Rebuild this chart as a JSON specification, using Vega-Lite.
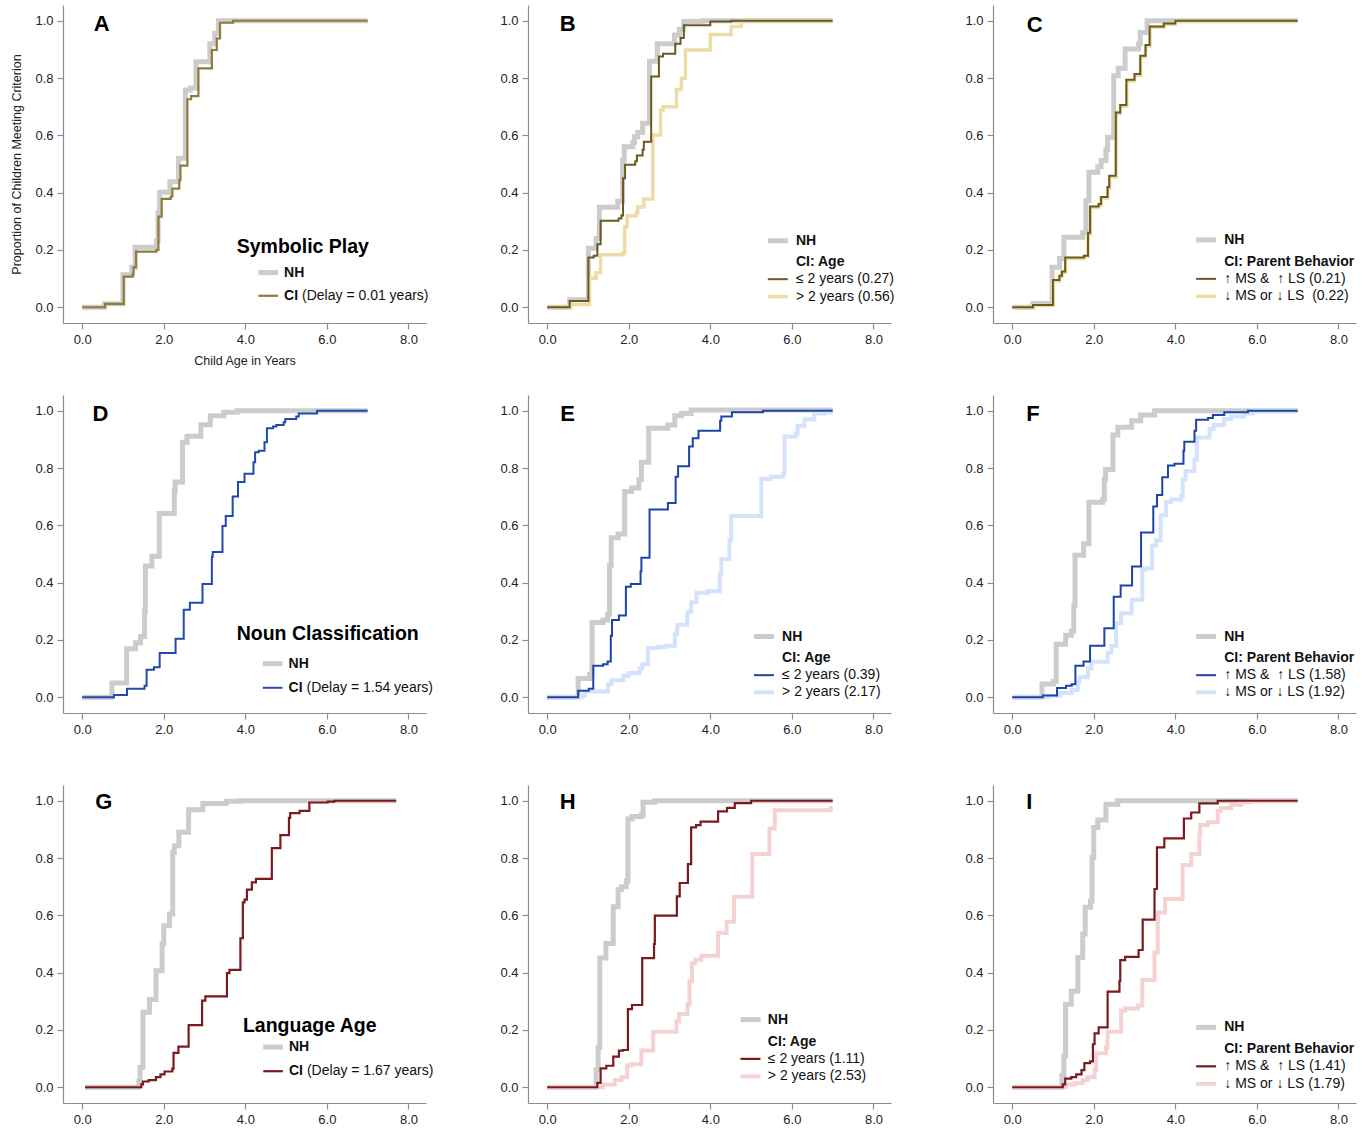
{
"$schema": "https://vega.github.io/schema/vega-lite/v6.json",
"background": "white",
"padding": {"left": 10, "top": 5, "right": 5, "bottom": 5},
"config": {
  "font": "Liberation Sans",
  "view": {"stroke": null},
  "axis": {"grid": false, "domainColor": "#8c8c8c", "tickColor": "#8c8c8c", "domainWidth": 1.2, "tickWidth": 1.2, "tickSize": 6, "labelPadding": 4, "labelFontSize": 13, "labelColor": "#222222", "labelFlush": false, "titleFontSize": 12.5, "titleFontWeight": "normal", "titleColor": "#222222"},
  "text": {"color": "#111111"}
},
"datasets": {
  "aN": [{"x":0,"y":0},{"x":0.55,"y":0.012},{"x":1.0,"y":0.113},{"x":1.22,"y":0.14},{"x":1.3,"y":0.209},{"x":1.82,"y":0.23},{"x":1.86,"y":0.33},{"x":1.9,"y":0.401},{"x":2.15,"y":0.438},{"x":2.36,"y":0.52},{"x":2.53,"y":0.758},{"x":2.65,"y":0.765},{"x":2.79,"y":0.857},{"x":3.13,"y":0.92},{"x":3.25,"y":0.956},{"x":3.34,"y":1.0},{"x":7.0,"y":1.0}],
  "aC": [{"x":0,"y":0},{"x":0.56,"y":0.012},{"x":1.02,"y":0.107},{"x":1.24,"y":0.115},{"x":1.26,"y":0.14},{"x":1.32,"y":0.194},{"x":1.82,"y":0.2},{"x":1.87,"y":0.316},{"x":1.95,"y":0.378},{"x":2.17,"y":0.386},{"x":2.21,"y":0.414},{"x":2.38,"y":0.444},{"x":2.41,"y":0.494},{"x":2.58,"y":0.726},{"x":2.67,"y":0.737},{"x":2.85,"y":0.834},{"x":3.18,"y":0.898},{"x":3.3,"y":0.938},{"x":3.38,"y":0.993},{"x":3.7,"y":1.0},{"x":7.0,"y":1.0}],
  "bN": [{"x":0,"y":0},{"x":0.55,"y":0.026},{"x":1.01,"y":0.206},{"x":1.2,"y":0.24},{"x":1.28,"y":0.349},{"x":1.73,"y":0.37},{"x":1.85,"y":0.514},{"x":1.89,"y":0.56},{"x":2.1,"y":0.575},{"x":2.14,"y":0.595},{"x":2.22,"y":0.61},{"x":2.34,"y":0.642},{"x":2.51,"y":0.859},{"x":2.7,"y":0.92},{"x":3.12,"y":0.95},{"x":3.24,"y":0.97},{"x":3.35,"y":0.997},{"x":3.8,"y":1.0},{"x":7.0,"y":1.0}],
  "bL": [{"x":0,"y":0},{"x":0.55,"y":0.022},{"x":1.01,"y":0.174},{"x":1.14,"y":0.18},{"x":1.23,"y":0.22},{"x":1.31,"y":0.302},{"x":1.75,"y":0.31},{"x":1.82,"y":0.32},{"x":1.86,"y":0.45},{"x":1.91,"y":0.497},{"x":2.16,"y":0.51},{"x":2.2,"y":0.53},{"x":2.34,"y":0.55},{"x":2.37,"y":0.578},{"x":2.55,"y":0.805},{"x":2.74,"y":0.875},{"x":2.84,"y":0.885},{"x":3.14,"y":0.92},{"x":3.27,"y":0.94},{"x":3.35,"y":0.984},{"x":4.0,"y":0.997},{"x":4.51,"y":1.0},{"x":7.0,"y":1.0}],
  "bH": [{"x":0,"y":0},{"x":0.55,"y":0.01},{"x":1.04,"y":0.101},{"x":1.2,"y":0.12},{"x":1.31,"y":0.183},{"x":1.86,"y":0.19},{"x":1.9,"y":0.281},{"x":1.96,"y":0.319},{"x":2.18,"y":0.33},{"x":2.22,"y":0.35},{"x":2.37,"y":0.378},{"x":2.59,"y":0.601},{"x":2.78,"y":0.688},{"x":2.84,"y":0.7},{"x":3.17,"y":0.76},{"x":3.29,"y":0.799},{"x":3.39,"y":0.898},{"x":4.0,"y":0.952},{"x":4.51,"y":0.98},{"x":4.76,"y":1.0},{"x":7.0,"y":1.0}],
  "cN": [{"x":0,"y":0},{"x":0.51,"y":0.013},{"x":0.98,"y":0.14},{"x":1.16,"y":0.17},{"x":1.27,"y":0.244},{"x":1.73,"y":0.26},{"x":1.81,"y":0.372},{"x":1.88,"y":0.471},{"x":2.1,"y":0.49},{"x":2.18,"y":0.512},{"x":2.3,"y":0.55},{"x":2.34,"y":0.593},{"x":2.49,"y":0.808},{"x":2.6,"y":0.834},{"x":2.77,"y":0.901},{"x":3.1,"y":0.92},{"x":3.14,"y":0.959},{"x":3.31,"y":1.0},{"x":7.0,"y":1.0}],
  "cL": [{"x":0,"y":0},{"x":0.51,"y":0.008},{"x":1.0,"y":0.095},{"x":1.16,"y":0.11},{"x":1.22,"y":0.125},{"x":1.3,"y":0.174},{"x":1.76,"y":0.18},{"x":1.86,"y":0.26},{"x":1.91,"y":0.352},{"x":2.12,"y":0.36},{"x":2.18,"y":0.385},{"x":2.34,"y":0.42},{"x":2.38,"y":0.459},{"x":2.54,"y":0.68},{"x":2.65,"y":0.706},{"x":2.8,"y":0.794},{"x":3.0,"y":0.814},{"x":3.14,"y":0.878},{"x":3.27,"y":0.915},{"x":3.37,"y":0.98},{"x":3.72,"y":0.99},{"x":4.0,"y":1.0},{"x":7.0,"y":1.0}],
  "cH": [{"x":0,"y":0},{"x":0.51,"y":0.006},{"x":1.0,"y":0.092},{"x":1.16,"y":0.107},{"x":1.22,"y":0.122},{"x":1.31,"y":0.17},{"x":1.76,"y":0.177},{"x":1.86,"y":0.256},{"x":1.92,"y":0.348},{"x":2.12,"y":0.356},{"x":2.18,"y":0.381},{"x":2.34,"y":0.416},{"x":2.39,"y":0.455},{"x":2.55,"y":0.676},{"x":2.65,"y":0.702},{"x":2.81,"y":0.79},{"x":3.0,"y":0.81},{"x":3.15,"y":0.874},{"x":3.27,"y":0.912},{"x":3.38,"y":0.977},{"x":3.72,"y":0.988},{"x":4.0,"y":0.998},{"x":7.0,"y":0.998}],
  "dN": [{"x":0,"y":0},{"x":0.73,"y":0.05},{"x":1.09,"y":0.169},{"x":1.31,"y":0.19},{"x":1.43,"y":0.212},{"x":1.53,"y":0.3},{"x":1.55,"y":0.458},{"x":1.71,"y":0.492},{"x":1.89,"y":0.641},{"x":2.26,"y":0.72},{"x":2.28,"y":0.751},{"x":2.46,"y":0.89},{"x":2.57,"y":0.911},{"x":2.91,"y":0.951},{"x":3.14,"y":0.983},{"x":3.47,"y":0.995},{"x":3.8,"y":1.0},{"x":7.0,"y":1.0}],
  "dC": [{"x":0,"y":0},{"x":0.78,"y":0.008},{"x":1.1,"y":0.03},{"x":1.53,"y":0.04},{"x":1.58,"y":0.096},{"x":1.76,"y":0.105},{"x":1.9,"y":0.154},{"x":2.29,"y":0.204},{"x":2.49,"y":0.305},{"x":2.64,"y":0.33},{"x":2.95,"y":0.395},{"x":3.18,"y":0.49},{"x":3.2,"y":0.507},{"x":3.44,"y":0.598},{"x":3.52,"y":0.633},{"x":3.69,"y":0.701},{"x":3.82,"y":0.751},{"x":3.98,"y":0.78},{"x":4.2,"y":0.82},{"x":4.24,"y":0.855},{"x":4.33,"y":0.86},{"x":4.47,"y":0.89},{"x":4.53,"y":0.939},{"x":4.68,"y":0.945},{"x":4.76,"y":0.95},{"x":4.94,"y":0.96},{"x":4.98,"y":0.971},{"x":5.25,"y":0.98},{"x":5.31,"y":0.99},{"x":5.76,"y":1.0},{"x":7.0,"y":1.0}],
  "eN": [{"x":0,"y":0},{"x":0.76,"y":0.065},{"x":1.04,"y":0.08},{"x":1.1,"y":0.261},{"x":1.37,"y":0.27},{"x":1.48,"y":0.29},{"x":1.53,"y":0.461},{"x":1.57,"y":0.557},{"x":1.74,"y":0.57},{"x":1.9,"y":0.718},{"x":2.07,"y":0.73},{"x":2.25,"y":0.76},{"x":2.31,"y":0.82},{"x":2.49,"y":0.939},{"x":2.96,"y":0.95},{"x":3.13,"y":0.983},{"x":3.29,"y":0.99},{"x":3.53,"y":1.003},{"x":7.0,"y":1.003}],
  "eL": [{"x":0,"y":0},{"x":0.76,"y":0.023},{"x":1.02,"y":0.03},{"x":1.13,"y":0.11},{"x":1.37,"y":0.115},{"x":1.48,"y":0.125},{"x":1.56,"y":0.215},{"x":1.59,"y":0.27},{"x":1.76,"y":0.285},{"x":1.93,"y":0.386},{"x":2.05,"y":0.395},{"x":2.29,"y":0.44},{"x":2.31,"y":0.487},{"x":2.51,"y":0.655},{"x":2.96,"y":0.678},{"x":3.15,"y":0.77},{"x":3.21,"y":0.806},{"x":3.48,"y":0.875},{"x":3.57,"y":0.904},{"x":3.71,"y":0.93},{"x":4.24,"y":0.965},{"x":4.27,"y":0.98},{"x":4.53,"y":0.995},{"x":5.29,"y":1.0},{"x":7.0,"y":1.0}],
  "eH": [{"x":0,"y":0},{"x":0.84,"y":0.005},{"x":0.92,"y":0.02},{"x":1.49,"y":0.045},{"x":1.57,"y":0.059},{"x":1.87,"y":0.075},{"x":2.0,"y":0.085},{"x":2.27,"y":0.1},{"x":2.33,"y":0.115},{"x":2.47,"y":0.172},{"x":2.72,"y":0.175},{"x":2.92,"y":0.18},{"x":3.13,"y":0.222},{"x":3.19,"y":0.253},{"x":3.43,"y":0.285},{"x":3.45,"y":0.298},{"x":3.53,"y":0.332},{"x":3.66,"y":0.365},{"x":3.94,"y":0.37},{"x":4.23,"y":0.43},{"x":4.27,"y":0.482},{"x":4.47,"y":0.55},{"x":4.51,"y":0.633},{"x":5.25,"y":0.762},{"x":5.49,"y":0.77},{"x":5.78,"y":0.78},{"x":5.82,"y":0.91},{"x":6.09,"y":0.92},{"x":6.14,"y":0.948},{"x":6.31,"y":0.97},{"x":6.55,"y":0.99},{"x":6.8,"y":0.995},{"x":7.0,"y":0.995}],
  "fN": [{"x":0,"y":0},{"x":0.73,"y":0.046},{"x":1.01,"y":0.055},{"x":1.08,"y":0.185},{"x":1.31,"y":0.216},{"x":1.45,"y":0.23},{"x":1.51,"y":0.32},{"x":1.54,"y":0.496},{"x":1.75,"y":0.536},{"x":1.88,"y":0.681},{"x":2.22,"y":0.69},{"x":2.26,"y":0.76},{"x":2.29,"y":0.795},{"x":2.47,"y":0.915},{"x":2.59,"y":0.942},{"x":2.93,"y":0.965},{"x":3.15,"y":0.985},{"x":3.49,"y":1.0},{"x":7.0,"y":1.0}],
  "fL": [{"x":0,"y":0},{"x":0.75,"y":0.006},{"x":1.1,"y":0.032},{"x":1.32,"y":0.04},{"x":1.46,"y":0.045},{"x":1.55,"y":0.11},{"x":1.75,"y":0.125},{"x":1.91,"y":0.18},{"x":2.26,"y":0.241},{"x":2.49,"y":0.351},{"x":2.66,"y":0.39},{"x":2.94,"y":0.456},{"x":3.16,"y":0.575},{"x":3.46,"y":0.666},{"x":3.55,"y":0.706},{"x":3.68,"y":0.768},{"x":3.82,"y":0.809},{"x":3.98,"y":0.815},{"x":4.2,"y":0.86},{"x":4.22,"y":0.892},{"x":4.47,"y":0.93},{"x":4.51,"y":0.969},{"x":4.8,"y":0.975},{"x":4.92,"y":0.985},{"x":5.2,"y":0.995},{"x":5.78,"y":1.0},{"x":7.0,"y":1.0}],
  "fH": [{"x":0,"y":0},{"x":0.87,"y":0.005},{"x":1.18,"y":0.015},{"x":1.45,"y":0.025},{"x":1.61,"y":0.055},{"x":1.65,"y":0.07},{"x":1.86,"y":0.1},{"x":1.94,"y":0.124},{"x":2.34,"y":0.155},{"x":2.43,"y":0.18},{"x":2.55,"y":0.258},{"x":2.67,"y":0.293},{"x":2.93,"y":0.34},{"x":3.19,"y":0.444},{"x":3.25,"y":0.45},{"x":3.43,"y":0.53},{"x":3.53,"y":0.548},{"x":3.64,"y":0.635},{"x":3.77,"y":0.681},{"x":3.9,"y":0.69},{"x":4.14,"y":0.7},{"x":4.18,"y":0.76},{"x":4.25,"y":0.79},{"x":4.47,"y":0.83},{"x":4.53,"y":0.907},{"x":4.84,"y":0.936},{"x":4.94,"y":0.95},{"x":5.2,"y":0.971},{"x":5.37,"y":0.98},{"x":5.69,"y":0.99},{"x":5.9,"y":1.0},{"x":7.0,"y":1.0}],
  "gN": [{"x":0.07,"y":0},{"x":1.39,"y":0.02},{"x":1.42,"y":0.07},{"x":1.49,"y":0.262},{"x":1.65,"y":0.306},{"x":1.81,"y":0.407},{"x":1.96,"y":0.5},{"x":2.0,"y":0.564},{"x":2.14,"y":0.605},{"x":2.22,"y":0.82},{"x":2.26,"y":0.843},{"x":2.37,"y":0.89},{"x":2.61,"y":0.969},{"x":2.96,"y":0.99},{"x":3.53,"y":0.998},{"x":3.86,"y":1.0},{"x":7.7,"y":1.0}],
  "gC": [{"x":0.07,"y":0},{"x":1.45,"y":0.01},{"x":1.49,"y":0.02},{"x":1.63,"y":0.025},{"x":1.81,"y":0.035},{"x":1.92,"y":0.045},{"x":2.02,"y":0.055},{"x":2.21,"y":0.065},{"x":2.24,"y":0.12},{"x":2.36,"y":0.142},{"x":2.61,"y":0.217},{"x":2.94,"y":0.302},{"x":3.02,"y":0.317},{"x":3.55,"y":0.398},{"x":3.61,"y":0.41},{"x":3.88,"y":0.52},{"x":3.94,"y":0.645},{"x":3.98,"y":0.655},{"x":4.04,"y":0.69},{"x":4.16,"y":0.715},{"x":4.26,"y":0.727},{"x":4.65,"y":0.835},{"x":4.86,"y":0.88},{"x":5.07,"y":0.94},{"x":5.1,"y":0.957},{"x":5.33,"y":0.965},{"x":5.57,"y":0.994},{"x":6.02,"y":0.997},{"x":6.18,"y":1.0},{"x":7.7,"y":1.0}],
  "hN": [{"x":0,"y":0},{"x":1.2,"y":0.06},{"x":1.25,"y":0.14},{"x":1.29,"y":0.451},{"x":1.44,"y":0.502},{"x":1.62,"y":0.63},{"x":1.74,"y":0.69},{"x":1.82,"y":0.7},{"x":1.94,"y":0.72},{"x":1.98,"y":0.936},{"x":2.08,"y":0.945},{"x":2.31,"y":0.95},{"x":2.35,"y":0.995},{"x":2.64,"y":1.0},{"x":7.0,"y":1.0}],
  "hL": [{"x":0,"y":0},{"x":1.23,"y":0.015},{"x":1.31,"y":0.066},{"x":1.45,"y":0.075},{"x":1.62,"y":0.107},{"x":1.76,"y":0.128},{"x":1.86,"y":0.13},{"x":1.98,"y":0.273},{"x":2.08,"y":0.287},{"x":2.33,"y":0.451},{"x":2.62,"y":0.5},{"x":2.64,"y":0.599},{"x":3.18,"y":0.666},{"x":3.25,"y":0.713},{"x":3.45,"y":0.779},{"x":3.53,"y":0.907},{"x":3.65,"y":0.915},{"x":3.76,"y":0.927},{"x":4.19,"y":0.963},{"x":4.41,"y":0.975},{"x":4.6,"y":0.992},{"x":5.0,"y":1.0},{"x":7.0,"y":1.0}],
  "hH": [{"x":0,"y":0},{"x":1.37,"y":0.01},{"x":1.66,"y":0.025},{"x":1.82,"y":0.035},{"x":1.96,"y":0.076},{"x":2.06,"y":0.08},{"x":2.31,"y":0.128},{"x":2.6,"y":0.194},{"x":3.17,"y":0.23},{"x":3.23,"y":0.256},{"x":3.44,"y":0.29},{"x":3.49,"y":0.37},{"x":3.55,"y":0.433},{"x":3.63,"y":0.445},{"x":3.78,"y":0.459},{"x":4.19,"y":0.538},{"x":4.4,"y":0.578},{"x":4.58,"y":0.665},{"x":5.03,"y":0.814},{"x":5.45,"y":0.903},{"x":5.58,"y":0.967},{"x":6.95,"y":0.975},{"x":7.0,"y":0.975}],
  "iN": [{"x":0,"y":0},{"x":1.22,"y":0.04},{"x":1.27,"y":0.11},{"x":1.31,"y":0.29},{"x":1.45,"y":0.335},{"x":1.61,"y":0.453},{"x":1.73,"y":0.535},{"x":1.79,"y":0.628},{"x":1.92,"y":0.65},{"x":1.96,"y":0.802},{"x":2.0,"y":0.907},{"x":2.1,"y":0.933},{"x":2.3,"y":0.988},{"x":2.59,"y":1.0},{"x":7.0,"y":1.0}],
  "iL": [{"x":0,"y":0},{"x":1.24,"y":0.01},{"x":1.3,"y":0.03},{"x":1.45,"y":0.035},{"x":1.57,"y":0.045},{"x":1.7,"y":0.06},{"x":1.77,"y":0.084},{"x":1.91,"y":0.09},{"x":1.98,"y":0.15},{"x":2.02,"y":0.188},{"x":2.12,"y":0.209},{"x":2.34,"y":0.334},{"x":2.63,"y":0.37},{"x":2.65,"y":0.444},{"x":2.77,"y":0.455},{"x":3.1,"y":0.479},{"x":3.2,"y":0.585},{"x":3.49,"y":0.692},{"x":3.55,"y":0.837},{"x":3.73,"y":0.869},{"x":4.21,"y":0.938},{"x":4.39,"y":0.959},{"x":4.59,"y":0.991},{"x":5.04,"y":1.0},{"x":7.0,"y":1.0}],
  "iH": [{"x":0,"y":0},{"x":1.32,"y":0.01},{"x":1.53,"y":0.015},{"x":1.73,"y":0.025},{"x":1.85,"y":0.035},{"x":2.02,"y":0.06},{"x":2.06,"y":0.119},{"x":2.3,"y":0.14},{"x":2.34,"y":0.194},{"x":2.67,"y":0.267},{"x":2.77,"y":0.275},{"x":3.08,"y":0.285},{"x":3.19,"y":0.374},{"x":3.49,"y":0.471},{"x":3.57,"y":0.61},{"x":3.75,"y":0.657},{"x":4.18,"y":0.776},{"x":4.39,"y":0.814},{"x":4.59,"y":0.88},{"x":4.61,"y":0.915},{"x":4.8,"y":0.925},{"x":5.04,"y":0.965},{"x":5.12,"y":0.975},{"x":5.37,"y":0.985},{"x":5.61,"y":0.995},{"x":5.85,"y":1.0},{"x":7.0,"y":1.0}]
},
"columns": 3,
"spacing": {"row": 72, "column": 102},
"bounds": "flush",
"concat": [
{
 "width": 363, "height": 318,
 "layer": [
  {"encoding": {
    "x": {"field": "x", "type": "quantitative", "scale": {"domain": [-0.47, 8.43], "nice": false, "zero": false}, "axis": {"values": [0,2,4,6,8], "format": ".1f", "title": "Child Age in Years", "titlePadding": 8}},
    "y": {"field": "y", "type": "quantitative", "scale": {"domain": [-0.055, 1.055], "nice": false, "zero": false}, "axis": {"values": [0,0.2,0.4,0.6,0.8,1], "format": ".1f", "title": "Proportion of Children Meeting Criterion", "titlePadding": 11}}},
   "layer": [
    {"data": {"name": "aN"}, "mark": {"type": "line", "interpolate": "step-after", "color": "#cccccc", "strokeWidth": 5}},
    {"data": {"name": "aC"}, "mark": {"type": "line", "interpolate": "step-after", "color": "#8f7c3a", "strokeWidth": 2.2}}
   ]},
  {"data": {"values": [{}]}, "mark": {"type": "text", "text": "A", "fontSize": 22, "fontWeight": "bold", "align": "center", "baseline": "middle", "color": "#000000"}, "encoding": {"x": {"datum": 0.48}, "y": {"datum": 0.988}}},
  {"data": {"values": [{}]}, "mark": {"type": "text", "text": "Symbolic Play", "fontSize": 19.5, "fontWeight": "bold", "align": "center", "baseline": "middle", "color": "#000000"}, "encoding": {"x": {"datum": 5.41}, "y": {"datum": 0.209}}},
  {"data": {"values": [{}]}, "mark": {"type": "rule", "color": "#cccccc", "strokeWidth": 5}, "encoding": {"x": {"datum": 4.32}, "x2": {"datum": 4.8}, "y": {"datum": 0.121}}},
  {"data": {"values": [{}]}, "mark": {"type": "text", "text": "NH", "fontSize": 14, "fontWeight": "bold", "align": "left", "baseline": "middle"}, "encoding": {"x": {"datum": 4.95}, "y": {"datum": 0.121}}},
  {"data": {"values": [{}]}, "mark": {"type": "rule", "color": "#8f7c3a", "strokeWidth": 2.2}, "encoding": {"x": {"datum": 4.32}, "x2": {"datum": 4.8}, "y": {"datum": 0.04}}},
  {"data": {"values": [{}]}, "mark": {"type": "text", "text": "CI", "fontSize": 14, "fontWeight": "bold", "align": "left", "baseline": "middle"}, "encoding": {"x": {"datum": 4.95}, "y": {"datum": 0.04}}},
  {"data": {"values": [{}]}, "mark": {"type": "text", "text": "(Delay = 0.01 years)", "fontSize": 14, "align": "left", "baseline": "middle", "dx": 18}, "encoding": {"x": {"datum": 4.95}, "y": {"datum": 0.04}}}
 ]
},
{
 "width": 363, "height": 318,
 "layer": [
  {"encoding": {
    "x": {"field": "x", "type": "quantitative", "scale": {"domain": [-0.47, 8.43], "nice": false, "zero": false}, "axis": {"values": [0,2,4,6,8], "format": ".1f", "title": null}},
    "y": {"field": "y", "type": "quantitative", "scale": {"domain": [-0.055, 1.055], "nice": false, "zero": false}, "axis": {"values": [0,0.2,0.4,0.6,0.8,1], "format": ".1f", "title": null}}},
   "layer": [
    {"data": {"name": "bN"}, "mark": {"type": "line", "interpolate": "step-after", "color": "#cccccc", "strokeWidth": 5}},
    {"data": {"name": "bH"}, "mark": {"type": "line", "interpolate": "step-after", "color": "#ecdca6", "strokeWidth": 3.5}},
    {"data": {"name": "bL"}, "mark": {"type": "line", "interpolate": "step-after", "color": "#6b5a1f", "strokeWidth": 2}}
   ]},
  {"data": {"values": [{}]}, "mark": {"type": "text", "text": "B", "fontSize": 22, "fontWeight": "bold", "align": "center", "baseline": "middle", "color": "#000000"}, "encoding": {"x": {"datum": 0.5}, "y": {"datum": 0.988}}},
  {"data": {"values": [{}]}, "mark": {"type": "rule", "color": "#cccccc", "strokeWidth": 5}, "encoding": {"x": {"datum": 5.41}, "x2": {"datum": 5.9}, "y": {"datum": 0.232}}},
  {"data": {"values": [{}]}, "mark": {"type": "text", "text": "NH", "fontSize": 14, "fontWeight": "bold", "align": "left", "baseline": "middle"}, "encoding": {"x": {"datum": 6.1}, "y": {"datum": 0.232}}},
  {"data": {"values": [{}]}, "mark": {"type": "text", "text": "CI: Age", "fontSize": 14, "fontWeight": "bold", "align": "left", "baseline": "middle"}, "encoding": {"x": {"datum": 6.1}, "y": {"datum": 0.157}}},
  {"data": {"values": [{}]}, "mark": {"type": "rule", "color": "#6b5a1f", "strokeWidth": 2}, "encoding": {"x": {"datum": 5.41}, "x2": {"datum": 5.9}, "y": {"datum": 0.098}}},
  {"data": {"values": [{}]}, "mark": {"type": "text", "text": "≤ 2 years (0.27)", "fontSize": 14, "align": "left", "baseline": "middle"}, "encoding": {"x": {"datum": 6.1}, "y": {"datum": 0.098}}},
  {"data": {"values": [{}]}, "mark": {"type": "rule", "color": "#ecdca6", "strokeWidth": 3.5}, "encoding": {"x": {"datum": 5.41}, "x2": {"datum": 5.9}, "y": {"datum": 0.037}}},
  {"data": {"values": [{}]}, "mark": {"type": "text", "text": "> 2 years (0.56)", "fontSize": 14, "align": "left", "baseline": "middle"}, "encoding": {"x": {"datum": 6.1}, "y": {"datum": 0.037}}}
 ]
},
{
 "width": 363, "height": 318,
 "layer": [
  {"encoding": {
    "x": {"field": "x", "type": "quantitative", "scale": {"domain": [-0.47, 8.43], "nice": false, "zero": false}, "axis": {"values": [0,2,4,6,8], "format": ".1f", "title": null}},
    "y": {"field": "y", "type": "quantitative", "scale": {"domain": [-0.055, 1.055], "nice": false, "zero": false}, "axis": {"values": [0,0.2,0.4,0.6,0.8,1], "format": ".1f", "title": null}}},
   "layer": [
    {"data": {"name": "cN"}, "mark": {"type": "line", "interpolate": "step-after", "color": "#cccccc", "strokeWidth": 5}},
    {"data": {"name": "cH"}, "mark": {"type": "line", "interpolate": "step-after", "color": "#ecdca6", "strokeWidth": 3.5}},
    {"data": {"name": "cL"}, "mark": {"type": "line", "interpolate": "step-after", "color": "#6b5a1f", "strokeWidth": 2}}
   ]},
  {"data": {"values": [{}]}, "mark": {"type": "text", "text": "C", "fontSize": 22, "fontWeight": "bold", "align": "center", "baseline": "middle", "color": "#000000"}, "encoding": {"x": {"datum": 0.55}, "y": {"datum": 0.985}}},
  {"data": {"values": [{}]}, "mark": {"type": "rule", "color": "#cccccc", "strokeWidth": 5}, "encoding": {"x": {"datum": 4.51}, "x2": {"datum": 5.0}, "y": {"datum": 0.235}}},
  {"data": {"values": [{}]}, "mark": {"type": "text", "text": "NH", "fontSize": 14, "fontWeight": "bold", "align": "left", "baseline": "middle"}, "encoding": {"x": {"datum": 5.2}, "y": {"datum": 0.235}}},
  {"data": {"values": [{}]}, "mark": {"type": "text", "text": "CI: Parent Behavior", "fontSize": 14, "fontWeight": "bold", "align": "left", "baseline": "middle"}, "encoding": {"x": {"datum": 5.2}, "y": {"datum": 0.159}}},
  {"data": {"values": [{}]}, "mark": {"type": "rule", "color": "#6b5a1f", "strokeWidth": 2}, "encoding": {"x": {"datum": 4.51}, "x2": {"datum": 5.0}, "y": {"datum": 0.099}}},
  {"data": {"values": [{}]}, "mark": {"type": "text", "text": "↑ MS &\u00a0 ↑ LS (0.21)", "fontSize": 14, "align": "left", "baseline": "middle"}, "encoding": {"x": {"datum": 5.2}, "y": {"datum": 0.099}}},
  {"data": {"values": [{}]}, "mark": {"type": "rule", "color": "#ecdca6", "strokeWidth": 3.5}, "encoding": {"x": {"datum": 4.51}, "x2": {"datum": 5.0}, "y": {"datum": 0.038}}},
  {"data": {"values": [{}]}, "mark": {"type": "text", "text": "↓ MS or ↓ LS\u00a0 (0.22)", "fontSize": 14, "align": "left", "baseline": "middle"}, "encoding": {"x": {"datum": 5.2}, "y": {"datum": 0.038}}}
 ]
},
{
 "width": 363, "height": 318,
 "layer": [
  {"encoding": {
    "x": {"field": "x", "type": "quantitative", "scale": {"domain": [-0.47, 8.43], "nice": false, "zero": false}, "axis": {"values": [0,2,4,6,8], "format": ".1f", "title": null}},
    "y": {"field": "y", "type": "quantitative", "scale": {"domain": [-0.055, 1.055], "nice": false, "zero": false}, "axis": {"values": [0,0.2,0.4,0.6,0.8,1], "format": ".1f", "title": null}}},
   "layer": [
    {"data": {"name": "dN"}, "mark": {"type": "line", "interpolate": "step-after", "color": "#cccccc", "strokeWidth": 5}},
    {"data": {"name": "dC"}, "mark": {"type": "line", "interpolate": "step-after", "color": "#2149b0", "strokeWidth": 2}}
   ]},
  {"data": {"values": [{}]}, "mark": {"type": "text", "text": "D", "fontSize": 22, "fontWeight": "bold", "align": "center", "baseline": "middle", "color": "#000000"}, "encoding": {"x": {"datum": 0.45}, "y": {"datum": 0.987}}},
  {"data": {"values": [{}]}, "mark": {"type": "text", "text": "Noun Classification", "fontSize": 19.5, "fontWeight": "bold", "align": "center", "baseline": "middle", "color": "#000000"}, "encoding": {"x": {"datum": 6.02}, "y": {"datum": 0.22}}},
  {"data": {"values": [{}]}, "mark": {"type": "rule", "color": "#cccccc", "strokeWidth": 5}, "encoding": {"x": {"datum": 4.43}, "x2": {"datum": 4.91}, "y": {"datum": 0.117}}},
  {"data": {"values": [{}]}, "mark": {"type": "text", "text": "NH", "fontSize": 14, "fontWeight": "bold", "align": "left", "baseline": "middle"}, "encoding": {"x": {"datum": 5.06}, "y": {"datum": 0.117}}},
  {"data": {"values": [{}]}, "mark": {"type": "rule", "color": "#2149b0", "strokeWidth": 2}, "encoding": {"x": {"datum": 4.43}, "x2": {"datum": 4.91}, "y": {"datum": 0.033}}},
  {"data": {"values": [{}]}, "mark": {"type": "text", "text": "CI", "fontSize": 14, "fontWeight": "bold", "align": "left", "baseline": "middle"}, "encoding": {"x": {"datum": 5.06}, "y": {"datum": 0.033}}},
  {"data": {"values": [{}]}, "mark": {"type": "text", "text": "(Delay = 1.54 years)", "fontSize": 14, "align": "left", "baseline": "middle", "dx": 18}, "encoding": {"x": {"datum": 5.06}, "y": {"datum": 0.033}}}
 ]
},
{
 "width": 363, "height": 318,
 "layer": [
  {"encoding": {
    "x": {"field": "x", "type": "quantitative", "scale": {"domain": [-0.47, 8.43], "nice": false, "zero": false}, "axis": {"values": [0,2,4,6,8], "format": ".1f", "title": null}},
    "y": {"field": "y", "type": "quantitative", "scale": {"domain": [-0.055, 1.055], "nice": false, "zero": false}, "axis": {"values": [0,0.2,0.4,0.6,0.8,1], "format": ".1f", "title": null}}},
   "layer": [
    {"data": {"name": "eN"}, "mark": {"type": "line", "interpolate": "step-after", "color": "#cccccc", "strokeWidth": 5}},
    {"data": {"name": "eH"}, "mark": {"type": "line", "interpolate": "step-after", "color": "#d4e3fc", "strokeWidth": 4}},
    {"data": {"name": "eL"}, "mark": {"type": "line", "interpolate": "step-after", "color": "#1d45a8", "strokeWidth": 2}}
   ]},
  {"data": {"values": [{}]}, "mark": {"type": "text", "text": "E", "fontSize": 22, "fontWeight": "bold", "align": "center", "baseline": "middle", "color": "#000000"}, "encoding": {"x": {"datum": 0.5}, "y": {"datum": 0.987}}},
  {"data": {"values": [{}]}, "mark": {"type": "rule", "color": "#cccccc", "strokeWidth": 5}, "encoding": {"x": {"datum": 5.07}, "x2": {"datum": 5.56}, "y": {"datum": 0.212}}},
  {"data": {"values": [{}]}, "mark": {"type": "text", "text": "NH", "fontSize": 14, "fontWeight": "bold", "align": "left", "baseline": "middle"}, "encoding": {"x": {"datum": 5.76}, "y": {"datum": 0.212}}},
  {"data": {"values": [{}]}, "mark": {"type": "text", "text": "CI: Age", "fontSize": 14, "fontWeight": "bold", "align": "left", "baseline": "middle"}, "encoding": {"x": {"datum": 5.76}, "y": {"datum": 0.137}}},
  {"data": {"values": [{}]}, "mark": {"type": "rule", "color": "#1d45a8", "strokeWidth": 2}, "encoding": {"x": {"datum": 5.07}, "x2": {"datum": 5.56}, "y": {"datum": 0.077}}},
  {"data": {"values": [{}]}, "mark": {"type": "text", "text": "≤ 2 years (0.39)", "fontSize": 14, "align": "left", "baseline": "middle"}, "encoding": {"x": {"datum": 5.76}, "y": {"datum": 0.077}}},
  {"data": {"values": [{}]}, "mark": {"type": "rule", "color": "#d4e3fc", "strokeWidth": 4}, "encoding": {"x": {"datum": 5.07}, "x2": {"datum": 5.56}, "y": {"datum": 0.017}}},
  {"data": {"values": [{}]}, "mark": {"type": "text", "text": "> 2 years (2.17)", "fontSize": 14, "align": "left", "baseline": "middle"}, "encoding": {"x": {"datum": 5.76}, "y": {"datum": 0.017}}}
 ]
},
{
 "width": 363, "height": 318,
 "layer": [
  {"encoding": {
    "x": {"field": "x", "type": "quantitative", "scale": {"domain": [-0.47, 8.43], "nice": false, "zero": false}, "axis": {"values": [0,2,4,6,8], "format": ".1f", "title": null}},
    "y": {"field": "y", "type": "quantitative", "scale": {"domain": [-0.055, 1.055], "nice": false, "zero": false}, "axis": {"values": [0,0.2,0.4,0.6,0.8,1], "format": ".1f", "title": null}}},
   "layer": [
    {"data": {"name": "fN"}, "mark": {"type": "line", "interpolate": "step-after", "color": "#cccccc", "strokeWidth": 5}},
    {"data": {"name": "fH"}, "mark": {"type": "line", "interpolate": "step-after", "color": "#d4e3fc", "strokeWidth": 4}},
    {"data": {"name": "fL"}, "mark": {"type": "line", "interpolate": "step-after", "color": "#1d45a8", "strokeWidth": 2}}
   ]},
  {"data": {"values": [{}]}, "mark": {"type": "text", "text": "F", "fontSize": 22, "fontWeight": "bold", "align": "center", "baseline": "middle", "color": "#000000"}, "encoding": {"x": {"datum": 0.51}, "y": {"datum": 0.987}}},
  {"data": {"values": [{}]}, "mark": {"type": "rule", "color": "#cccccc", "strokeWidth": 5}, "encoding": {"x": {"datum": 4.51}, "x2": {"datum": 5.0}, "y": {"datum": 0.212}}},
  {"data": {"values": [{}]}, "mark": {"type": "text", "text": "NH", "fontSize": 14, "fontWeight": "bold", "align": "left", "baseline": "middle"}, "encoding": {"x": {"datum": 5.2}, "y": {"datum": 0.212}}},
  {"data": {"values": [{}]}, "mark": {"type": "text", "text": "CI: Parent Behavior", "fontSize": 14, "fontWeight": "bold", "align": "left", "baseline": "middle"}, "encoding": {"x": {"datum": 5.2}, "y": {"datum": 0.137}}},
  {"data": {"values": [{}]}, "mark": {"type": "rule", "color": "#1d45a8", "strokeWidth": 2}, "encoding": {"x": {"datum": 4.51}, "x2": {"datum": 5.0}, "y": {"datum": 0.077}}},
  {"data": {"values": [{}]}, "mark": {"type": "text", "text": "↑ MS &\u00a0 ↑ LS (1.58)", "fontSize": 14, "align": "left", "baseline": "middle"}, "encoding": {"x": {"datum": 5.2}, "y": {"datum": 0.077}}},
  {"data": {"values": [{}]}, "mark": {"type": "rule", "color": "#d4e3fc", "strokeWidth": 4}, "encoding": {"x": {"datum": 4.51}, "x2": {"datum": 5.0}, "y": {"datum": 0.017}}},
  {"data": {"values": [{}]}, "mark": {"type": "text", "text": "↓ MS or ↓ LS (1.92)", "fontSize": 14, "align": "left", "baseline": "middle"}, "encoding": {"x": {"datum": 5.2}, "y": {"datum": 0.017}}}
 ]
},
{
 "width": 363, "height": 318,
 "layer": [
  {"encoding": {
    "x": {"field": "x", "type": "quantitative", "scale": {"domain": [-0.47, 8.43], "nice": false, "zero": false}, "axis": {"values": [0,2,4,6,8], "format": ".1f", "title": null}},
    "y": {"field": "y", "type": "quantitative", "scale": {"domain": [-0.055, 1.055], "nice": false, "zero": false}, "axis": {"values": [0,0.2,0.4,0.6,0.8,1], "format": ".1f", "title": null}}},
   "layer": [
    {"data": {"name": "gN"}, "mark": {"type": "line", "interpolate": "step-after", "color": "#cccccc", "strokeWidth": 5}},
    {"data": {"name": "gC"}, "mark": {"type": "line", "interpolate": "step-after", "color": "#7a1a1e", "strokeWidth": 2.2}}
   ]},
  {"data": {"values": [{}]}, "mark": {"type": "text", "text": "G", "fontSize": 22, "fontWeight": "bold", "align": "center", "baseline": "middle", "color": "#000000"}, "encoding": {"x": {"datum": 0.53}, "y": {"datum": 0.995}}},
  {"data": {"values": [{}]}, "mark": {"type": "text", "text": "Language Age", "fontSize": 19.5, "fontWeight": "bold", "align": "center", "baseline": "middle", "color": "#000000"}, "encoding": {"x": {"datum": 5.58}, "y": {"datum": 0.214}}},
  {"data": {"values": [{}]}, "mark": {"type": "rule", "color": "#cccccc", "strokeWidth": 5}, "encoding": {"x": {"datum": 4.44}, "x2": {"datum": 4.92}, "y": {"datum": 0.14}}},
  {"data": {"values": [{}]}, "mark": {"type": "text", "text": "NH", "fontSize": 14, "fontWeight": "bold", "align": "left", "baseline": "middle"}, "encoding": {"x": {"datum": 5.07}, "y": {"datum": 0.14}}},
  {"data": {"values": [{}]}, "mark": {"type": "rule", "color": "#7a1a1e", "strokeWidth": 2.2}, "encoding": {"x": {"datum": 4.44}, "x2": {"datum": 4.92}, "y": {"datum": 0.056}}},
  {"data": {"values": [{}]}, "mark": {"type": "text", "text": "CI", "fontSize": 14, "fontWeight": "bold", "align": "left", "baseline": "middle"}, "encoding": {"x": {"datum": 5.07}, "y": {"datum": 0.056}}},
  {"data": {"values": [{}]}, "mark": {"type": "text", "text": "(Delay = 1.67 years)", "fontSize": 14, "align": "left", "baseline": "middle", "dx": 18}, "encoding": {"x": {"datum": 5.07}, "y": {"datum": 0.056}}}
 ]
},
{
 "width": 363, "height": 318,
 "layer": [
  {"encoding": {
    "x": {"field": "x", "type": "quantitative", "scale": {"domain": [-0.47, 8.43], "nice": false, "zero": false}, "axis": {"values": [0,2,4,6,8], "format": ".1f", "title": null}},
    "y": {"field": "y", "type": "quantitative", "scale": {"domain": [-0.055, 1.055], "nice": false, "zero": false}, "axis": {"values": [0,0.2,0.4,0.6,0.8,1], "format": ".1f", "title": null}}},
   "layer": [
    {"data": {"name": "hN"}, "mark": {"type": "line", "interpolate": "step-after", "color": "#cccccc", "strokeWidth": 5}},
    {"data": {"name": "hH"}, "mark": {"type": "line", "interpolate": "step-after", "color": "#f5d2d2", "strokeWidth": 4}},
    {"data": {"name": "hL"}, "mark": {"type": "line", "interpolate": "step-after", "color": "#7a1a1e", "strokeWidth": 2.2}}
   ]},
  {"data": {"values": [{}]}, "mark": {"type": "text", "text": "H", "fontSize": 22, "fontWeight": "bold", "align": "center", "baseline": "middle", "color": "#000000"}, "encoding": {"x": {"datum": 0.5}, "y": {"datum": 0.995}}},
  {"data": {"values": [{}]}, "mark": {"type": "rule", "color": "#cccccc", "strokeWidth": 5}, "encoding": {"x": {"datum": 4.74}, "x2": {"datum": 5.23}, "y": {"datum": 0.236}}},
  {"data": {"values": [{}]}, "mark": {"type": "text", "text": "NH", "fontSize": 14, "fontWeight": "bold", "align": "left", "baseline": "middle"}, "encoding": {"x": {"datum": 5.41}, "y": {"datum": 0.236}}},
  {"data": {"values": [{}]}, "mark": {"type": "text", "text": "CI: Age", "fontSize": 14, "fontWeight": "bold", "align": "left", "baseline": "middle"}, "encoding": {"x": {"datum": 5.41}, "y": {"datum": 0.159}}},
  {"data": {"values": [{}]}, "mark": {"type": "rule", "color": "#7a1a1e", "strokeWidth": 2.2}, "encoding": {"x": {"datum": 4.74}, "x2": {"datum": 5.23}, "y": {"datum": 0.099}}},
  {"data": {"values": [{}]}, "mark": {"type": "text", "text": "≤ 2 years (1.11)", "fontSize": 14, "align": "left", "baseline": "middle"}, "encoding": {"x": {"datum": 5.41}, "y": {"datum": 0.099}}},
  {"data": {"values": [{}]}, "mark": {"type": "rule", "color": "#f5d2d2", "strokeWidth": 4}, "encoding": {"x": {"datum": 4.74}, "x2": {"datum": 5.23}, "y": {"datum": 0.038}}},
  {"data": {"values": [{}]}, "mark": {"type": "text", "text": "> 2 years (2.53)", "fontSize": 14, "align": "left", "baseline": "middle"}, "encoding": {"x": {"datum": 5.41}, "y": {"datum": 0.038}}}
 ]
},
{
 "width": 363, "height": 318,
 "layer": [
  {"encoding": {
    "x": {"field": "x", "type": "quantitative", "scale": {"domain": [-0.47, 8.43], "nice": false, "zero": false}, "axis": {"values": [0,2,4,6,8], "format": ".1f", "title": null}},
    "y": {"field": "y", "type": "quantitative", "scale": {"domain": [-0.055, 1.055], "nice": false, "zero": false}, "axis": {"values": [0,0.2,0.4,0.6,0.8,1], "format": ".1f", "title": null}}},
   "layer": [
    {"data": {"name": "iN"}, "mark": {"type": "line", "interpolate": "step-after", "color": "#cccccc", "strokeWidth": 5}},
    {"data": {"name": "iH"}, "mark": {"type": "line", "interpolate": "step-after", "color": "#f5d2d2", "strokeWidth": 4}},
    {"data": {"name": "iL"}, "mark": {"type": "line", "interpolate": "step-after", "color": "#7a1a1e", "strokeWidth": 2.2}}
   ]},
  {"data": {"values": [{}]}, "mark": {"type": "text", "text": "I", "fontSize": 22, "fontWeight": "bold", "align": "center", "baseline": "middle", "color": "#000000"}, "encoding": {"x": {"datum": 0.42}, "y": {"datum": 0.995}}},
  {"data": {"values": [{}]}, "mark": {"type": "rule", "color": "#cccccc", "strokeWidth": 5}, "encoding": {"x": {"datum": 4.51}, "x2": {"datum": 5.0}, "y": {"datum": 0.209}}},
  {"data": {"values": [{}]}, "mark": {"type": "text", "text": "NH", "fontSize": 14, "fontWeight": "bold", "align": "left", "baseline": "middle"}, "encoding": {"x": {"datum": 5.2}, "y": {"datum": 0.209}}},
  {"data": {"values": [{}]}, "mark": {"type": "text", "text": "CI: Parent Behavior", "fontSize": 14, "fontWeight": "bold", "align": "left", "baseline": "middle"}, "encoding": {"x": {"datum": 5.2}, "y": {"datum": 0.134}}},
  {"data": {"values": [{}]}, "mark": {"type": "rule", "color": "#7a1a1e", "strokeWidth": 2.2}, "encoding": {"x": {"datum": 4.51}, "x2": {"datum": 5.0}, "y": {"datum": 0.073}}},
  {"data": {"values": [{}]}, "mark": {"type": "text", "text": "↑ MS &\u00a0 ↑ LS (1.41)", "fontSize": 14, "align": "left", "baseline": "middle"}, "encoding": {"x": {"datum": 5.2}, "y": {"datum": 0.073}}},
  {"data": {"values": [{}]}, "mark": {"type": "rule", "color": "#f5d2d2", "strokeWidth": 4}, "encoding": {"x": {"datum": 4.51}, "x2": {"datum": 5.0}, "y": {"datum": 0.012}}},
  {"data": {"values": [{}]}, "mark": {"type": "text", "text": "↓ MS or ↓ LS (1.79)", "fontSize": 14, "align": "left", "baseline": "middle"}, "encoding": {"x": {"datum": 5.2}, "y": {"datum": 0.012}}}
 ]
}
]
}
